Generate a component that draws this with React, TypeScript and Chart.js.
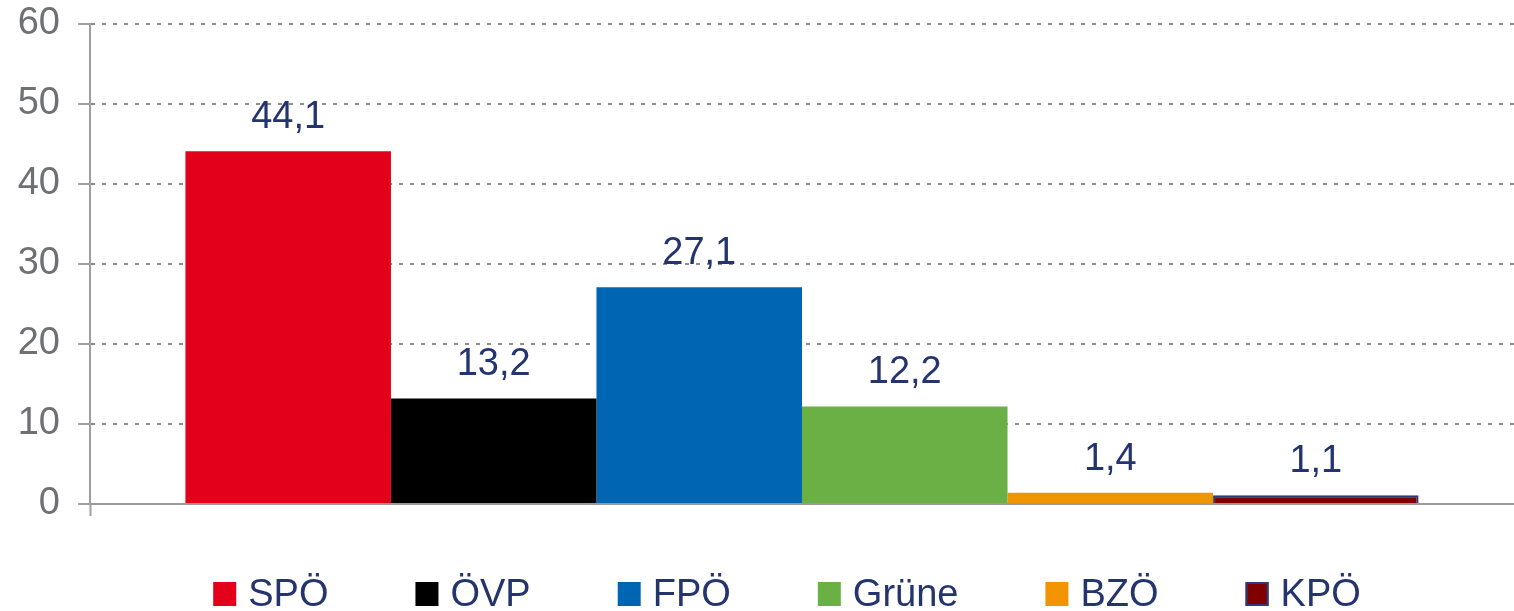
import React, { useEffect, useRef } from 'react';
import { Chart, registerables } from 'chart.js';

Chart.register(...registerables);

const parties: string[] = ['SPÖ', 'ÖVP', 'FPÖ', 'Grüne', 'BZÖ', 'KPÖ'];
const votes: number[] = [44.1, 13.2, 27.1, 12.2, 1.4, 1.1];
const partyColors: string[] = ['#E2001A', '#000000', '#0066B3', '#6AB045', '#F29400', '#800000'];
const partyBorders: string[] = ['#E2001A', '#000000', '#0066B3', '#6AB045', '#F29400', '#2B3A78'];
const partyBorderWidths: number[] = [0, 0, 0, 0, 0, 2];
const yMin = 0;
const yMax = 60;
const yStep = 10;

const FONT = "Arial, 'Liberation Sans', sans-serif";
const NAVY = '#24346F';

const fmt = (v: number) => v.toFixed(1).replace('.', ',');

const valueLabels = {
  id: 'valueLabels',
  afterDatasetsDraw(chart: any) {
    const ctx = chart.ctx;
    ctx.save();
    ctx.font = `38px ${FONT}`;
    ctx.fillStyle = NAVY;
    ctx.textAlign = 'center';
    ctx.textBaseline = 'alphabetic';
    chart.data.datasets.forEach((ds: any, i: number) => {
      const meta = chart.getDatasetMeta(i);
      const bar = meta.data[0];
      if (!bar) return;
      ctx.fillText(fmt(ds.data[0]), bar.x, bar.y - 23);
    });
    ctx.restore();
  },
};

const bottomLegend = {
  id: 'bottomLegend',
  afterDraw(chart: any) {
    const ctx = chart.ctx;
    ctx.save();
    ctx.font = `38px ${FONT}`;
    const boxW = 23;
    const boxH = 24;
    const textGap = 12;
    const itemGap = 87;
    const items = chart.data.datasets.map((ds: any) => ({
      text: ds.label,
      fill: ds.backgroundColor,
      stroke: ds.borderColor,
      bw: ds.borderWidth,
      w: boxW + textGap + ctx.measureText(ds.label).width,
    }));
    const total = items.reduce((s: number, it: any) => s + it.w, 0) + itemGap * (items.length - 1);
    const center = (chart.chartArea.left + chart.chartArea.right) / 2 - 15;
    let x = center - total / 2;
    const baseline = 606;
    ctx.textAlign = 'left';
    ctx.textBaseline = 'alphabetic';
    items.forEach((it: any) => {
      ctx.fillStyle = it.fill;
      ctx.fillRect(x, baseline - boxH, boxW, boxH);
      if (it.bw > 0) {
        ctx.strokeStyle = it.stroke;
        ctx.lineWidth = it.bw;
        ctx.strokeRect(x + it.bw / 2, baseline - boxH + it.bw / 2, boxW - it.bw, boxH - it.bw);
      }
      ctx.fillStyle = NAVY;
      ctx.fillText(it.text, x + boxW + textGap, baseline);
      x += it.w + itemGap;
    });
    ctx.restore();
  },
};

export default function App() {
  const canvasRef = useRef<HTMLCanvasElement | null>(null);

  useEffect(() => {
    if (!canvasRef.current) return;
    const chart = new Chart(canvasRef.current, {
      type: 'bar',
      data: {
        labels: [''],
        datasets: parties.map((p, i) => ({
          label: p,
          data: [votes[i]],
          backgroundColor: partyColors[i],
          borderColor: partyBorders[i],
          borderWidth: partyBorderWidths[i],
          categoryPercentage: 0.866,
          barPercentage: 1,
        })),
      },
      options: {
        animation: false,
        responsive: false,
        layout: { padding: { top: 24, left: 0, right: 0, bottom: 95 } },
        plugins: {
          legend: { display: false },
          tooltip: { enabled: false },
          title: { display: false },
        },
        scales: {
          x: {
            type: 'category',
            offset: true,
            ticks: { display: false },
            grid: {
              display: true,
              offset: true,
              drawOnChartArea: false,
              drawTicks: true,
              tickLength: 12,
              tickColor: (c: any) => (c.index === 0 ? '#A0A0A0' : 'rgba(0,0,0,0)'),
              tickWidth: 2,
            },
            border: { display: true, color: '#9A9A9A', width: 2 },
          },
          y: {
            min: yMin,
            max: yMax,
            afterFit(scale: any) {
              scale.width = 90;
              scale.paddingTop = 0;
              scale.paddingBottom = 0;
            },
            ticks: {
              stepSize: yStep,
              color: '#6E7073',
              padding: 18,
              font: { size: 38, family: FONT },
              callback: (v: any) => String(v),
            },
            grid: {
              color: '#8E8E8E',
              lineWidth: 2,
              drawTicks: true,
              tickLength: 12,
              tickColor: '#A0A0A0',
              tickWidth: 2,
              tickBorderDash: [],
            },
            border: { display: true, color: '#A0A0A0', width: 2, dash: [4, 7] },
          },
        },
      },
      plugins: [valueLabels, bottomLegend],
    } as any);
    return () => chart.destroy();
  }, []);

  return (
    <div style={{ position: 'fixed', left: 0, top: 0, width: 1514, height: 611, background: '#fff' }}>
      <canvas ref={canvasRef} width={1514} height={611} style={{ display: 'block' }} />
    </div>
  );
}
